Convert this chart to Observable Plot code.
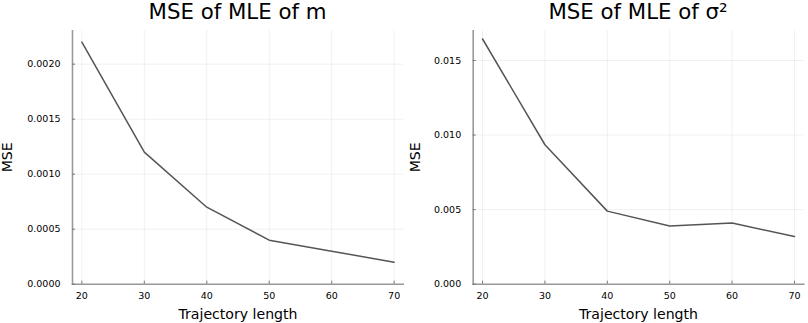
<!DOCTYPE html>
<html><head><meta charset="utf-8">
<script src="https://cdn.jsdelivr.net/npm/d3@7"></script>
<script src="https://cdn.jsdelivr.net/npm/@observablehq/plot@0.6"></script>
<style>
body{margin:0;background:#fff;font-family:"DejaVu Sans",sans-serif;}
#wrap{display:flex;width:808px;height:323px;overflow:hidden;}
.panel{width:404px;}
.title{height:30px;font-size:21.3px;line-height:24px;text-align:center;color:#000;box-sizing:border-box;white-space:nowrap;}
svg{display:block;}
</style></head>
<body><div id="wrap"></div>
<script>
const trajectoryLength = [20, 30, 40, 50, 60, 70];
const mseM = [0.0022, 0.0012, 0.0007, 0.0004, 0.0003, 0.0002];
const mseSigma2 = [0.01644, 0.00935, 0.0049, 0.0039, 0.0041, 0.0032];
const titles = ["MSE of MLE of m", "MSE of MLE of σ²"];
const xLabel = "Trajectory length";
const yLabel = "MSE";
const xTicks = [20, 30, 40, 50, 60, 70];
const yTicksM = [0, 0.0005, 0.0010, 0.0015, 0.0020];
const yTicksS = [0, 0.005, 0.010, 0.015];

function panel(title, values, yTicks, yDomain, fmt, ml, mr, ylabDx) {
  const data = trajectoryLength.map((x, i) => ({x, y: values[i]}));
  const div = document.createElement("div");
  div.className = "panel";
  const t = document.createElement("div");
  t.className = "title";
  t.style.paddingLeft = ml + "px";
  t.style.paddingRight = mr + "px";
  t.textContent = title;
  div.appendChild(t);
  const chart = Plot.plot({
    width: 404, height: 293,
    marginLeft: ml, marginRight: mr, marginTop: 0, marginBottom: 39.3,
    style: {fontFamily: "DejaVu Sans, sans-serif", color: "#000", background: "#fff"},
    x: {domain: [18.5, 71.5]},
    y: {domain: yDomain},
    marks: [
      Plot.gridX(xTicks, {stroke: "#000", strokeOpacity: 0.1, strokeWidth: 0.6}),
      Plot.gridY(yTicks, {stroke: "#000", strokeOpacity: 0.1, strokeWidth: 0.6}),
      Plot.frame({anchor: "left", stroke: "#999", strokeWidth: 1.6}),
      Plot.frame({anchor: "bottom", stroke: "#999", strokeWidth: 1.6}),
      Plot.axisX(xTicks, {tickSize: -3, text: null, label: null, stroke: "#777"}),
      Plot.axisY(yTicks, {tickSize: -3, text: null, label: null, stroke: "#777"}),
      Plot.axisX(xTicks, {tickSize: 0, tickPadding: 8, fontSize: 9.5, label: null, tickFormat: d => d}),
      Plot.axisY(yTicks, {tickSize: 0, tickPadding: 12, fontSize: 9.5, label: null, tickFormat: d3.format(fmt)}),
      Plot.line(data, {x: "x", y: "y", stroke: "#555", strokeWidth: 1.5}),
      Plot.text([xLabel], {frameAnchor: "bottom", dy: 34.5, fontSize: 14.1, text: d => d, fill: "#000", textAnchor: "middle", lineAnchor: "bottom"}),
      Plot.text([yLabel], {frameAnchor: "left", dx: ylabDx, rotate: -90, fontSize: 14.1, text: d => d, fill: "#000", textAnchor: "middle", lineAnchor: "middle"})
    ]
  });
  div.appendChild(chart);
  return div;
}
const wrap = document.getElementById("wrap");
wrap.appendChild(panel(titles[0], mseM, yTicksM, [0, 0.002306], ".4f", 72, 1, -65.5));
wrap.appendChild(panel(titles[1], mseSigma2, yTicksS, [0, 0.01701], ".3f", 68.7, 4.7, -57.7));
</script></body></html>
